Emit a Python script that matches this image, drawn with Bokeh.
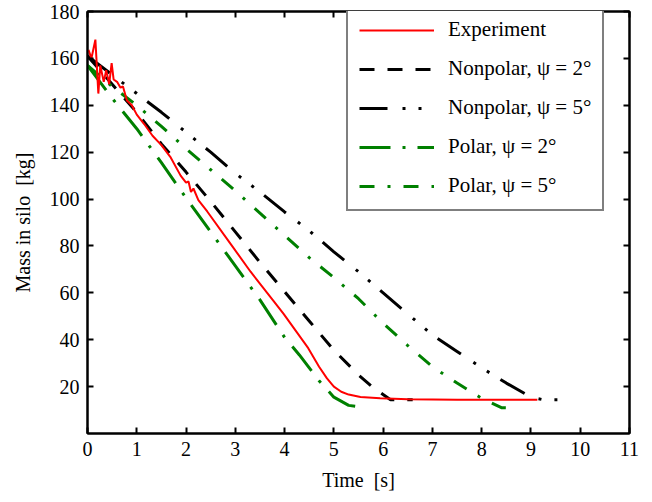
from bokeh.plotting import figure
from bokeh.models import Range1d, LinearAxis, FixedTicker, Legend, LegendItem
from bokeh.embed import file_html
from bokeh.resources import INLINE

# ---- data ----
exp_t = [0.02, 0.08, 0.12, 0.16, 0.22, 0.26, 0.33, 0.38, 0.44, 0.49, 0.53, 0.6, 0.67, 0.72,
         0.8, 0.9, 1.0, 1.15, 1.32, 1.5, 1.68, 1.89, 2.0, 2.05, 2.1, 2.15, 2.25, 2.43, 2.9,
         3.31, 3.77, 3.98, 4.48, 4.7, 4.86, 5.0, 5.15, 5.3, 5.54, 5.94, 6.5, 7.5, 8.5, 9.13]
exp_m = [163.6, 160, 164, 168, 145, 157, 150, 155, 149, 158, 151, 150, 147.5, 148,
         142, 140, 136, 132, 127, 123, 118, 110, 107, 107.5, 103, 104.5, 99.5, 94.7, 81,
         69, 56.7, 51, 36.4, 28.5, 23.5, 20.0, 17.8, 16.6, 15.6, 15.0, 14.6, 14.4, 14.4, 14.4]

np2_t = [0, 0.5, 1, 1.5, 2, 2.5, 3, 3.5, 4, 4.5, 5, 5.5, 5.8, 6.15, 6.6]
np2_m = [161, 149, 137, 123.5, 111.5, 99, 86, 73, 60.5, 48, 35.5, 25, 19.5, 14.4, 14.4]

np5_t = [0, 0.5, 1, 1.5, 2, 2.5, 3, 3.5, 4, 4.5, 5, 5.5, 6, 6.5, 7, 7.5, 8, 8.5, 9, 9.25, 9.65]
np5_m = [161, 153, 145, 137, 128.5, 120, 111, 103, 94.5, 86.5, 77.5, 69, 60, 51, 42, 35, 28,
         21.5, 15.5, 14.4, 14.4]

p2_t = [0, 0.5, 1, 1.5, 2, 2.5, 3, 3.5, 4, 4.3, 4.7, 5.0, 5.3, 5.64]
p2_m = [157, 143, 130, 115.5, 100.5, 86, 71.5, 57, 41, 33.5, 22.5, 15.5, 12, 11]

p5_t = [0, 0.5, 1, 1.5, 2, 2.5, 3, 3.5, 4, 4.5, 5, 5.5, 6, 6.5, 7, 7.5, 8, 8.4, 8.75]
p5_m = [157, 148, 140, 131, 121.5, 112.5, 103.5, 94, 84.5, 75, 66.5, 57.5, 47, 37.5, 28.5,
        21.5, 15, 11, 10.8]

x_ticks = list(range(0, 12))
y_ticks = list(range(20, 200, 20))

FONT = "Liberation Serif"

p = figure(frame_width=542, frame_height=422, output_backend="svg", toolbar_location=None,
           x_range=Range1d(0, 11), y_range=Range1d(0, 180),
           min_border_left=87, min_border_top=11, min_border_right=15, min_border_bottom=10)
p.width = 644
p.height = 498
p.grid.visible = False
p.outline_line_color = "black"
p.outline_line_width = 2
p.background_fill_color = "white"
p.border_fill_color = "white"

for ax in p.xaxis + p.yaxis:
    ax.major_tick_in = 6
    ax.major_tick_out = 0
    ax.minor_tick_line_color = None
    ax.axis_line_width = 2
    ax.major_tick_line_width = 2
    ax.major_label_text_font = FONT
    ax.major_label_text_font_size = "20px"
    ax.major_label_text_color = "black"
    ax.axis_label_text_font = FONT
    ax.axis_label_text_font_size = "20px"
    ax.axis_label_text_font_style = "normal"
    ax.axis_label_text_color = "black"

p.xaxis.ticker = FixedTicker(ticks=x_ticks)
p.yaxis.ticker = FixedTicker(ticks=y_ticks)
p.xaxis.axis_label = "Time\u00a0 [s]"
p.yaxis.axis_label = "Mass in silo\u00a0 [kg]"
p.xaxis.major_label_standoff = 8
p.yaxis.major_label_standoff = 8
p.xaxis.axis_label_standoff = 10
p.yaxis.axis_label_standoff = 13

top = LinearAxis(ticker=FixedTicker(ticks=x_ticks), major_tick_in=6, major_tick_out=0,
                 minor_tick_line_color=None, major_label_text_font_size="1px",
                 major_label_text_color=None,
                 major_label_standoff=0, axis_line_width=2, major_tick_line_width=2)
right = LinearAxis(ticker=FixedTicker(ticks=y_ticks), major_tick_in=6, major_tick_out=0,
                   minor_tick_line_color=None, major_label_text_font_size="1px",
                   major_label_text_color=None,
                   major_label_standoff=0, axis_line_width=2, major_tick_line_width=2)
p.add_layout(top, "above")
p.add_layout(right, "right")

green = "#008000"
r_np2 = p.line(np2_t, np2_m, line_color="black", line_width=3, line_dash="15 13")
r_np5 = p.line(np5_t, np5_m, line_color="black", line_width=3, line_dash="28 15 3 13 3 13")
r_p2 = p.line(p2_t, p2_m, line_color=green, line_width=3, line_dash="31 12 3 12")
r_p5 = p.line(p5_t, p5_m, line_color=green, line_width=3, line_dash="15 13 3 13")
r_exp = p.line(exp_t, exp_m, line_color="red", line_width=2)

legend = Legend(items=[
    LegendItem(label="Experiment", renderers=[r_exp]),
    LegendItem(label="Nonpolar, ψ = 2°", renderers=[r_np2]),
    LegendItem(label="Nonpolar, ψ = 5°", renderers=[r_np5]),
    LegendItem(label="Polar, ψ = 2°", renderers=[r_p2]),
    LegendItem(label="Polar, ψ = 5°", renderers=[r_p5]),
], location=(259, 222))
legend.label_text_font = FONT
legend.label_text_font_size = "21px"
legend.label_text_color = "black"
legend.glyph_width = 75
legend.glyph_height = 22
legend.label_height = 22
legend.label_standoff = 14
legend.spacing = 14
legend.padding = 11
legend.margin = 0
legend.border_line_color = "black"
legend.border_line_width = 2
legend.background_fill_alpha = 1
p.add_layout(legend, "center")

open("out.html", "w").write(file_html(p, INLINE))
